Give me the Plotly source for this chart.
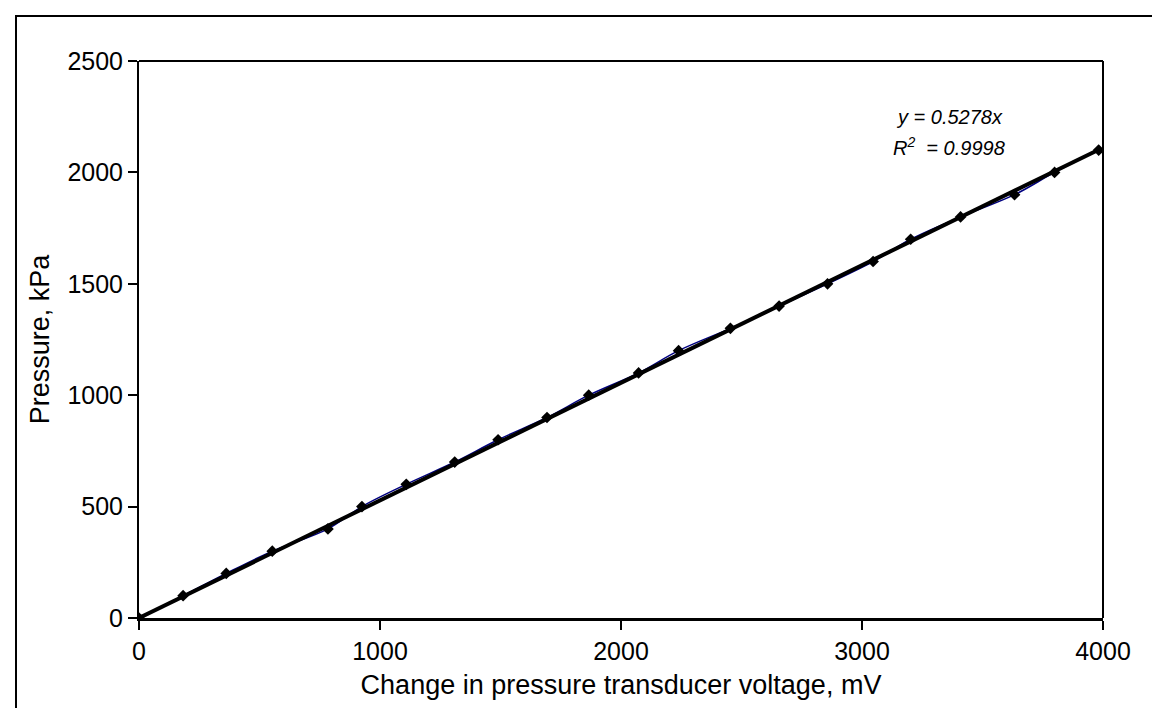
import plotly.graph_objects as go

# Data
voltage_mV = [0, 183, 362, 553, 784, 925, 1109, 1310, 1490, 1693, 1866, 2073,
              2239, 2454, 2656, 2857, 3046, 3202, 3409, 3633, 3799, 3982]
pressure_kPa = [0, 100, 200, 300, 400, 500, 600, 700, 800, 900, 1000, 1100,
                1200, 1300, 1400, 1500, 1600, 1700, 1800, 1900, 2000, 2100]
slope = 0.5278
r_squared = 0.9998
x_ticks = [0, 1000, 2000, 3000, 4000]
y_ticks = [0, 500, 1000, 1500, 2000, 2500]

trend_x = [0, max(voltage_mV)]
trend_y = [slope * v for v in trend_x]

FONT = "Liberation Sans, Arial, sans-serif"

fig = go.Figure()
fig.add_trace(go.Scatter(x=voltage_mV, y=pressure_kPa, mode="lines",
                         line=dict(color="#000080", width=1.5, shape="spline"),
                         showlegend=False, hoverinfo="skip"))
fig.add_trace(go.Scatter(x=trend_x, y=trend_y, mode="lines",
                         line=dict(color="black", width=4),
                         showlegend=False))
fig.add_trace(go.Scatter(x=voltage_mV, y=pressure_kPa, mode="markers",
                         marker=dict(symbol="diamond", size=9, color="black"),
                         showlegend=False))

fig.add_annotation(x=3361, y=2249, xref="x", yref="y", showarrow=False,
                   text="<i>y = %.4fx</i>" % slope,
                   font=dict(family=FONT, size=20, color="black"))
fig.add_annotation(x=3361, y=2118, xref="x", yref="y", showarrow=False,
                   text="<i>R<sup>2</sup>  = %.4f</i>" % r_squared,
                   font=dict(family=FONT, size=20, color="black"))

# outer chart frame (extends beyond right/bottom edges)
fig.add_shape(type="rect", xref="paper", yref="paper",
              x0=(8 - 131) / 964, x1=(1175 - 131) / 964,
              y0=(610 - 725) / 557, y1=(610 - 8) / 557,
              line=dict(color="black", width=2), fillcolor="rgba(0,0,0,0)",
              layer="above")

fig.update_layout(
    width=1160, height=708,
    margin=dict(l=131, r=65, t=53, b=98),
    paper_bgcolor="white", plot_bgcolor="white",
    font=dict(family=FONT, size=25, color="black"),
    showlegend=False,
    xaxis=dict(range=[0, 4000], tickvals=x_ticks, showgrid=False, zeroline=False,
               showline=True, linecolor="black", linewidth=3, mirror=False,
               ticks="outside", ticklen=9, tickwidth=2, tickcolor="black",
               title=dict(text="Change in pressure transducer voltage, mV",
                          font=dict(size=27), standoff=12),
               tickfont=dict(size=25)),
    yaxis=dict(range=[0, 2500], tickvals=y_ticks, showgrid=False, zeroline=False,
               showline=True, linecolor="black", linewidth=2,
               ticks="outside", ticklen=9, tickwidth=2, tickcolor="black",
               title=dict(text="Pressure, kPa", font=dict(size=27), standoff=10),
               tickfont=dict(size=25)),
)
# right and top borders of plot area
fig.add_shape(type="line", xref="paper", yref="paper", x0=0, x1=1, y0=1, y1=1,
              line=dict(color="black", width=2))
fig.add_shape(type="line", xref="paper", yref="paper", x0=1, x1=1, y0=0, y1=1,
              line=dict(color="black", width=2))

fig.write_html("out.html")
